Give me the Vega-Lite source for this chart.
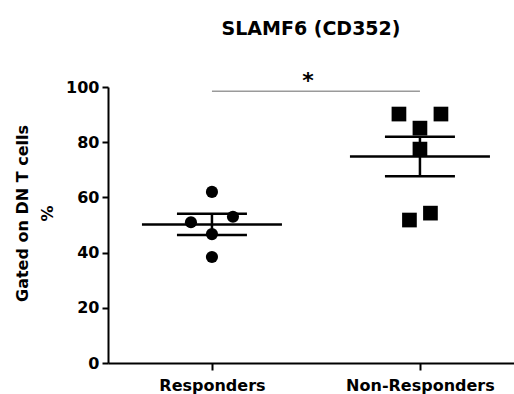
{
  "$schema": "https://vega.github.io/schema/vega-lite/v6.json",
  "width": 406,
  "height": 276,
  "autosize": {"type": "none"},
  "padding": {"left": 108, "top": 87, "right": 0, "bottom": 31},
  "background": "white",
  "title": {
    "text": "SLAMF6 (CD352)",
    "font": "DejaVu Sans",
    "fontSize": 19,
    "fontWeight": "bold",
    "color": "black",
    "offset": 31
  },
  "datasets": {
    "pts": [
      {"group": "Responders", "value": 62, "swarm": 0},
      {"group": "Responders", "value": 51, "swarm": -2},
      {"group": "Responders", "value": 53, "swarm": 2},
      {"group": "Responders", "value": 46.7, "swarm": 0},
      {"group": "Responders", "value": 38.4, "swarm": 0},
      {"group": "Non-Responders", "value": 90.2, "swarm": -2},
      {"group": "Non-Responders", "value": 90.2, "swarm": 2},
      {"group": "Non-Responders", "value": 85.1, "swarm": 0},
      {"group": "Non-Responders", "value": 77.5, "swarm": 0},
      {"group": "Non-Responders", "value": 54.3, "swarm": 1},
      {"group": "Non-Responders", "value": 51.8, "swarm": -1}
    ],
    "sig": [
      {"from": "Responders", "to": "Non-Responders", "y": 98.5, "label": "*"}
    ]
  },
  "resolve": {"axis": {"y": "independent"}},
  "encoding": {
    "x": {
      "field": "group",
      "type": "nominal",
      "sort": ["Responders", "Non-Responders"],
      "scale": {"type": "point", "domain": ["Responders", "Non-Responders"], "padding": 0.476, "align": 0.525},
      "axis": {"title": null, "labelAngle": 0, "tickSize": 7, "labelPadding": 7}
    }
  },
  "layer": [
    {
      "data": {"name": "pts"},
      "mark": {"type": "point", "filled": true, "opacity": 1, "color": "black"},
      "encoding": {
        "xOffset": {"field": "swarm", "type": "ordinal", "scale": {"type": "point", "domain": [-2, -1, 0, 1, 2], "range": [-21, 21], "padding": 0}},
        "y": {
          "field": "value",
          "type": "quantitative",
          "scale": {"domain": [0, 100], "nice": false},
          "axis": {"values": [0, 20, 40, 60, 80, 100], "title": ["Gated on DN T cells", "%"], "titleLineHeight": 25, "titleY": 126, "tickSize": 6, "labelPadding": 3, "titlePadding": 10}
        },
        "shape": {"field": "group", "type": "nominal", "scale": {"domain": ["Responders", "Non-Responders"], "range": ["circle", "square"]}, "legend": null},
        "size": {"field": "group", "type": "nominal", "scale": {"domain": ["Responders", "Non-Responders"], "range": [147, 216]}, "legend": null}
      }
    },
    {
      "data": {"name": "pts"},
      "mark": {"type": "tick", "color": "black", "size": 140, "thickness": 2.5, "opacity": 1},
      "encoding": {
        "y": {"field": "value", "type": "quantitative", "aggregate": "mean", "axis": null}
      }
    },
    {
      "data": {"name": "pts"},
      "mark": {"type": "errorbar", "extent": "stderr", "color": "black", "ticks": {"size": 70, "thickness": 2.5, "color": "black", "opacity": 1}, "rule": {"strokeWidth": 2.5}},
      "encoding": {
        "y": {"field": "value", "type": "quantitative", "axis": null}
      }
    },
    {
      "data": {"name": "sig"},
      "mark": {"type": "rule", "color": "#9a9a9a", "strokeWidth": 1.5},
      "encoding": {
        "x": {"field": "from", "type": "nominal"},
        "x2": {"field": "to"},
        "y": {"field": "y", "type": "quantitative", "axis": null}
      }
    },
    {
      "data": {"name": "sig"},
      "mark": {"type": "text", "font": "DejaVu Sans", "fontWeight": "bold", "fontSize": 22, "color": "black", "dx": 96, "dy": 2, "baseline": "bottom"},
      "encoding": {
        "x": {"field": "from", "type": "nominal"},
        "y": {"field": "y", "type": "quantitative", "axis": null},
        "text": {"field": "label"}
      }
    }
  ],
  "config": {
    "view": {"stroke": null},
    "font": "DejaVu Sans",
    "axis": {
      "grid": false,
      "domainColor": "black",
      "domainWidth": 2,
      "tickColor": "black",
      "tickWidth": 2,
      "labelFont": "DejaVu Sans",
      "labelFontSize": 16,
      "labelFontWeight": "bold",
      "labelColor": "black",
      "titleFont": "DejaVu Sans",
      "titleFontSize": 16,
      "titleFontWeight": "bold",
      "titleColor": "black"
    }
  }
}
